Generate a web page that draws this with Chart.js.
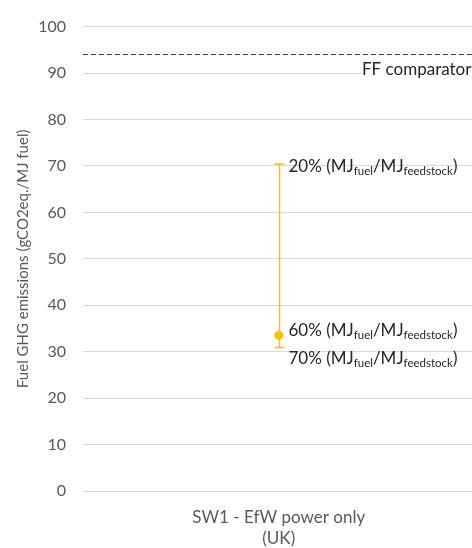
<!DOCTYPE html>
<html>
<head>
<meta charset="utf-8">
<script src="https://cdn.jsdelivr.net/npm/chart.js@4/dist/chart.umd.min.js"></script>
<style>
  html, body { margin: 0; padding: 0; background: #fff; overflow: hidden; }
  #wrap { width: 472px; height: 548px; overflow: hidden; }
</style>
</head>
<body>
<div id="wrap"><canvas id="c" width="479" height="548"></canvas></div>
<script>
// Pathway and its emission range (gCO2eq./MJ fuel)
const categories = [['SW1 - EfW power only', '(UK)']];
const highValues = [70.4];   // 20% conversion efficiency
const midValues  = [33.5];   // 60% conversion efficiency
const lowValues  = [30.9];   // 70% conversion efficiency
const rangeLabels = [
  { pct: '20%', series: 'high' },
  { pct: '60%', series: 'mid' },
  { pct: '70%', series: 'low' }
];
const comparatorValue = 94;
const comparatorLabel = 'FF comparator';
const yTicks = [0, 10, 20, 30, 40, 50, 60, 70, 80, 90, 100];

const FONT = 'Lato, "Open Sans", sans-serif';
const GOLD = '#FFC000';

// Draws the whisker, comparator line and annotations from the scales
const annotate = {
  id: 'annotate',
  afterDatasetsDraw(chart) {
    const { ctx, chartArea, scales: { x, y } } = chart;
    ctx.save();

    // Fossil fuel comparator
    const yc = y.getPixelForValue(comparatorValue);
    ctx.strokeStyle = '#404040';
    ctx.lineWidth = 1;
    ctx.setLineDash([5, 3]);
    ctx.beginPath();
    ctx.moveTo(chartArea.left, Math.round(yc) + 0.5);
    ctx.lineTo(chartArea.right, Math.round(yc) + 0.5);
    ctx.stroke();
    ctx.setLineDash([]);
    ctx.font = '17px ' + FONT;
    ctx.textBaseline = 'middle';
    const tw = ctx.measureText(comparatorLabel).width;
    ctx.fillStyle = '#fff';
    ctx.fillRect(361, yc + 6, tw + 4, 18);
    ctx.fillStyle = '#262626';
    ctx.textAlign = 'left';
    ctx.fillText(comparatorLabel, 362, yc + 15);

    categories.forEach((_, i) => {
      const px = Math.round(x.getPixelForValue(i)) + 0.5;
      const yh = y.getPixelForValue(highValues[i]);
      const yl = y.getPixelForValue(lowValues[i]);
      const ym = y.getPixelForValue(midValues[i]);
      ctx.strokeStyle = GOLD;
      ctx.lineWidth = 1.5;
      ctx.beginPath();
      ctx.moveTo(px, yh); ctx.lineTo(px, yl);
      ctx.moveTo(px - 5, yh); ctx.lineTo(px + 5, yh);
      ctx.moveTo(px - 5, yl); ctx.lineTo(px + 5, yl);
      ctx.stroke();

      const pos = { high: yh + 2, mid: ym - 5, low: yl + 11 };
      rangeLabels.forEach(l => drawRatio(ctx, px + 9, pos[l.series], l.pct));
    });
    ctx.restore();
  }
};

function drawRatio(ctx, x0, yMid, pct) {
  const parts = [
    [pct + ' (MJ', false], ['fuel', true], ['/MJ', false], ['feedstock', true], [')', false]
  ];
  let cx = x0;
  ctx.textAlign = 'left';
  ctx.textBaseline = 'middle';
  ctx.fillStyle = '#262626';
  parts.forEach(([t, sub]) => {
    ctx.font = (sub ? '11.5px ' : '17px ') + FONT;
    ctx.fillText(t, cx, sub ? yMid + 5 : yMid);
    cx += ctx.measureText(t).width;
  });
}

new Chart(document.getElementById('c'), {
  type: 'line',
  data: {
    labels: categories,
    datasets: [{
      data: midValues,
      showLine: false,
      pointRadius: 4.5,
      pointBackgroundColor: GOLD,
      pointBorderColor: GOLD,
      pointBorderWidth: 0
    }]
  },
  options: {
    responsive: false,
    animation: false,
    layout: { padding: { top: 19, right: 0, left: 0, bottom: 0 } },
    plugins: { legend: { display: false }, tooltip: { enabled: false } },
    scales: {
      x: {
        offset: true,
        grid: { display: false },
        border: { display: false },
        ticks: { color: '#595959', font: { family: FONT, size: 17, lineHeight: 1.25 }, padding: 8, maxRotation: 0 },
        afterFit(s) { s.height = 57; }
      },
      y: {
        min: 0, max: 100,
        afterBuildTicks(s) { s.ticks = yTicks.map(v => ({ value: v })); },
        grid: { color: '#d9d9d9', drawTicks: false },
        border: { display: false },
        ticks: { color: '#595959', font: { family: FONT, size: 16 }, padding: 17 },
        title: {
          display: true,
          text: 'Fuel GHG emissions (gCO2eq./MJ fuel)',
          color: '#595959',
          font: { family: FONT, size: 15 },
          padding: { top: 14, bottom: 6 }
        },
        afterFit(s) { s.width = 83; }
      }
    }
  },
  plugins: [annotate]
});
</script>
</body>
</html>
